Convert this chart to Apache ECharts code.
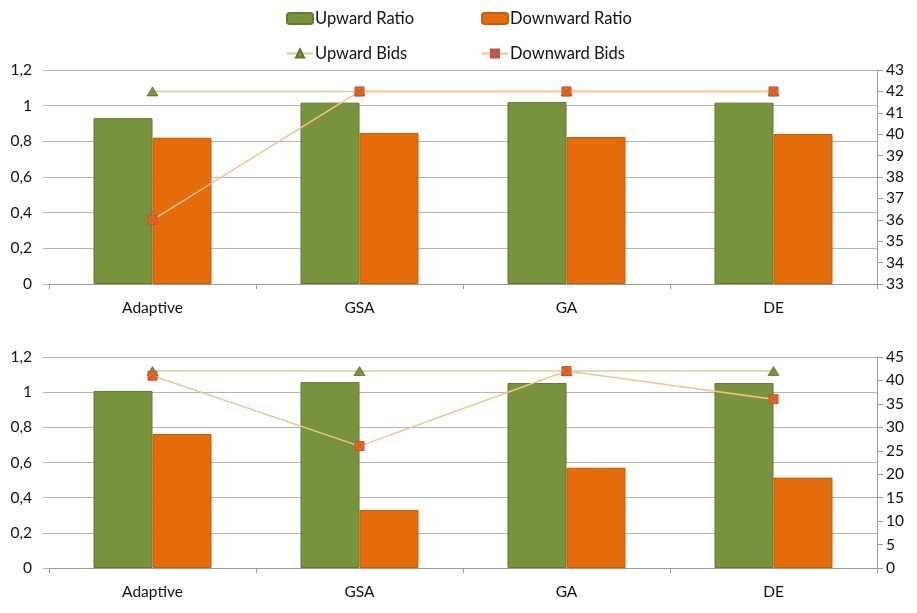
<!DOCTYPE html>
<html><head><meta charset="utf-8">
<script src="https://cdn.jsdelivr.net/npm/echarts@6/dist/echarts.min.js"></script>
<style>html,body{margin:0;padding:0;background:#fff}#c{width:917px;height:613px}</style>
</head><body><div id="c"></div>
<script>
const categories = ['Adaptive', 'GSA', 'GA', 'DE'];
// top chart
const topUpRatio = [0.93, 1.017, 1.02, 1.017];
const topDownRatio = [0.82, 0.847, 0.824, 0.841];
const topUpBids = [42, 42, 42, 42];
const topDownBids = [36, 42, 42, 42];
// bottom chart
const botUpRatio = [1.007, 1.057, 1.052, 1.052];
const botDownRatio = [0.762, 0.33, 0.57, 0.514];
const botUpBids = [42, 42, 42, 42];
const botDownBids = [41, 26, 42, 36];
// axis ranges
const leftRange = [0, 1.2, 0.2];
const topRightRange = [33, 43, 1];
const botRightRange = [0, 45, 5];

const GREEN = '#77933C', ORANGE = '#E46C0A';
const FONT = 'Lato';
const TXT = '#111';
const GRID = '#b4b4b4';
const xMark = 'path://M0,0 L10,0 L10,10 L0,10 Z M1,1 L9,9 M9,1 L1,9';

function leftFmt(v){ return String(Math.round(v*10)/10).replace('.', ','); }

const grids = [
  {left: 49, right: 40, top: 70, height: 214},
  {left: 49, right: 40, top: 357, height: 211}
];
function xAx(i){
  return {type:'category', gridIndex:i, data:categories,
    axisLine:{lineStyle:{color:'#9a9a9a'}},
    axisTick:{show:true, length:5, lineStyle:{color:'#9a9a9a'}},
    axisLabel:{color:TXT, fontFamily:FONT, fontSize:15.5, margin:16}};
}
function leftAx(i){
  return {type:'value', gridIndex:i, min:leftRange[0], max:leftRange[1], interval:leftRange[2],
    axisLine:{show:false}, axisTick:{show:true, length:6, lineStyle:{color:GRID}},
    splitLine:{lineStyle:{color:GRID}},
    axisLabel:{color:TXT, fontFamily:FONT, fontSize:15.5, margin:17, formatter:leftFmt}};
}
function rightAx(i, r){
  return {type:'value', gridIndex:i, position:'right', min:r[0], max:r[1], interval:r[2],
    axisLine:{show:true, lineStyle:{color:'#9a9a9a'}}, axisTick:{show:true, length:6, lineStyle:{color:'#9a9a9a'}},
    splitLine:{show:false},
    axisLabel:{color:TXT, fontFamily:FONT, fontSize:15.5, margin:9}};
}
function bar(name, data, xi, yi, color, border){
  return {name, type:'bar', xAxisIndex:xi, yAxisIndex:yi, data, barGap:'0%', barCategoryGap:'43%',
    itemStyle:{color, borderColor:border, borderWidth:1}, z:2};
}
function up(data, xi, yi){
  return {name:'Upward Bids', type:'line', xAxisIndex:xi, yAxisIndex:yi, data,
    symbol:'triangle', symbolSize:[11,9],
    lineStyle:{color:'#c3d69b', width:1.5},
    itemStyle:{color:GREEN, borderColor:'#5b722d', borderWidth:0.8}, z:5};
}
function down(data, xi, yi){
  return {name:'Downward Bids', type:'line', xAxisIndex:xi, yAxisIndex:yi, data,
    symbol:xMark, symbolSize:9,
    lineStyle:{color:'#fac090', width:1.5},
    itemStyle:{color:ORANGE, borderColor:'#c0504d', borderWidth:1}, z:6};
}
function legend(name, left, top, isLine){
  return {data:[name], left, top, itemWidth:26, itemHeight:isLine?10:11, itemGap:0,
    textStyle:{color:TXT, fontFamily:FONT, fontSize:16.5, padding:[0,0,0,-3]}, padding:0};
}

const chart = echarts.init(document.getElementById('c'), null, {renderer:'canvas'});
chart.setOption({
  animation:false,
  backgroundColor:'#fff',
  grid:grids,
  legend:[
    legend('Upward Ratio', 286, 10, false),
    legend('Downward Ratio', 481, 10, false),
    legend('Upward Bids', 286, 45, true),
    legend('Downward Bids', 481, 45, true)
  ],
  xAxis:[xAx(0), xAx(1)],
  yAxis:[leftAx(0), rightAx(0, topRightRange), leftAx(1), rightAx(1, botRightRange)],
  series:[
    bar('Upward Ratio', topUpRatio, 0, 0, GREEN, '#62792f'),
    bar('Downward Ratio', topDownRatio, 0, 0, ORANGE, '#c45c0a'),
    up(topUpBids, 0, 1),
    down(topDownBids, 0, 1),
    bar('Upward Ratio', botUpRatio, 1, 2, GREEN, '#62792f'),
    bar('Downward Ratio', botDownRatio, 1, 2, ORANGE, '#c45c0a'),
    up(botUpBids, 1, 3),
    down(botDownBids, 1, 3)
  ]
});
</script></body></html>
